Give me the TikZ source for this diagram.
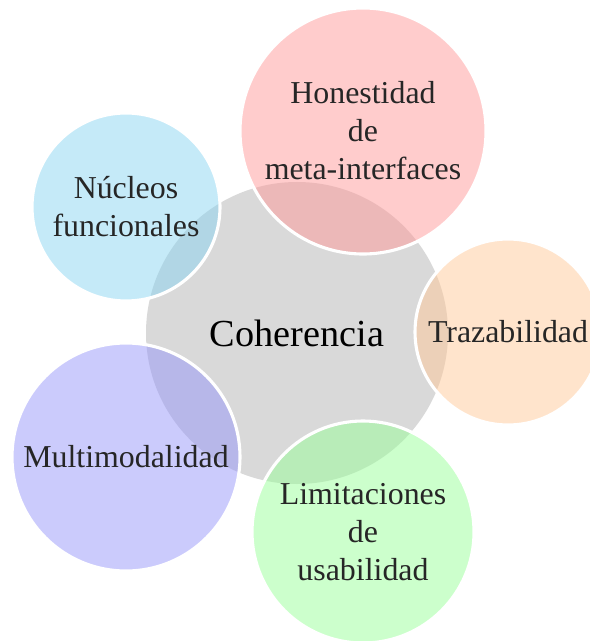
\documentclass[tikz,border=0pt]{standalone}
\usepackage{fontspec}
\setmainfont{Liberation Serif}
\definecolor{cgray}{RGB}{217,217,217}
\definecolor{cpink}{RGB}{255,153,153}
\definecolor{cblue}{RGB}{139,213,241}
\definecolor{cpurple}{RGB}{151,151,249}
\definecolor{cgreen}{RGB}{153,255,153}
\definecolor{corange}{RGB}{255,201,153}
\tikzset{
  centre/.style={circle, fill=cgray, inner sep=0pt, minimum size={2*151*0.3215pt},
    font=\fontsize{12.3}{14}\selectfont, text=black},
  bubble/.style={circle, draw=white, line width=1pt, fill=#1, fill opacity=0.5,
    text opacity=1, text=black!85, inner sep=0pt, align=center,
    font=\fontsize{10.25}{12.2}\selectfont},
}
\begin{document}
\begin{tikzpicture}[x=0.3215pt, y=-0.3215pt]
\useasboundingbox (0,0) rectangle (589,641);
\node[centre] (c) at (297,333) {Coherencia};
\node[bubble=cpink, minimum size={2*123*0.3215pt}] (hon) at (363,131) {Honestidad\\de\\meta-interfaces};
\node[bubble=corange, minimum size={2*93*0.3215pt}] (tra) at (508,332) {Trazabilidad};
\node[bubble=cgreen, minimum size={2*111*0.3215pt}] (lim) at (363,532) {Limitaciones\\de\\usabilidad};
\node[bubble=cpurple, minimum size={2*114*0.3215pt}] (mul) at (126,457) {Multimodalidad};
\node[bubble=cblue, minimum size={2*94*0.3215pt}] (nuc) at (126,207) {Núcleos\\funcionales};
\end{tikzpicture}
\end{document}
